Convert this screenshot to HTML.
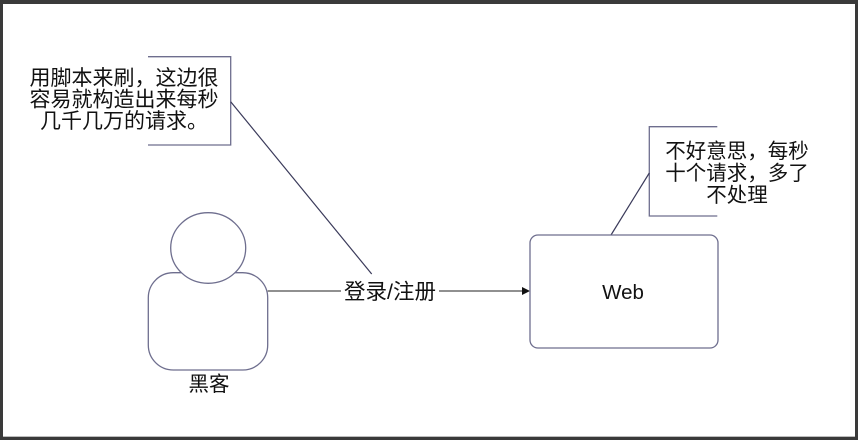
<!DOCTYPE html>
<html><head><meta charset="utf-8"><style>
html,body{margin:0;padding:0;background:#3a3a3a;}
svg{display:block;}
text{font-family:"Liberation Sans","Noto Sans CJK SC",sans-serif;fill:#111;}
</style></head><body>
<svg width="858" height="440" viewBox="0 0 858 440" xmlns="http://www.w3.org/2000/svg">
<rect x="0" y="0" width="858" height="440" fill="#3a3a3a"/>
<rect x="3" y="4" width="852" height="433" fill="#ffffff"/>
<line x1="3" y1="436.5" x2="855" y2="436.5" stroke="#bdbdbd" stroke-width="1"/>

<!-- left annotation -->
<path d="M148 56.7 H230.7 V145 H148" fill="none" stroke="#6e6e8e" stroke-width="1.3"/>
<line x1="230.7" y1="101.7" x2="371.7" y2="274" stroke="#3a3a5a" stroke-width="1.2"/>
<text x="124" y="85" font-size="21" text-anchor="middle">用脚本来刷，这边很</text>
<text x="124" y="106.5" font-size="21" text-anchor="middle">容易就构造出来每秒</text>
<text x="124" y="128" font-size="21" text-anchor="middle">几千几万的请求。</text>

<!-- right annotation -->
<path d="M717.3 126.7 H649.3 V216 H717.3" fill="none" stroke="#6e6e8e" stroke-width="1.3"/>
<line x1="649.3" y1="173" x2="611" y2="235" stroke="#3a3a5a" stroke-width="1.2"/>
<text x="737" y="158" font-size="20.5" text-anchor="middle">不好意思，每秒</text>
<text x="737" y="180" font-size="20.5" text-anchor="middle">十个请求，多了</text>
<text x="737" y="202" font-size="20.5" text-anchor="middle">不处理</text>

<!-- person -->
<rect x="148.3" y="272.7" width="119.4" height="97.3" rx="25" ry="25" fill="#fff" stroke="#6e6e8e" stroke-width="1.3"/>
<ellipse cx="208.2" cy="248" rx="37.5" ry="35.3" fill="#fff" stroke="#6e6e8e" stroke-width="1.3"/>
<text x="209" y="391" font-size="20.5" text-anchor="middle">黑客</text>

<!-- arrow -->
<line x1="267.7" y1="291" x2="524" y2="291" stroke="#222" stroke-width="1.1"/>
<polygon points="530,291 522,287 522,295" fill="#111"/>
<rect x="341" y="279" width="98" height="24" fill="#fff"/>
<text x="390" y="299" font-size="21.5" text-anchor="middle">登录/注册</text>

<!-- web box -->
<rect x="530" y="235" width="188" height="113" rx="8" ry="8" fill="#fff" stroke="#6e6e8e" stroke-width="1.3"/>
<text x="623" y="299" font-size="20.5" text-anchor="middle">Web</text>
</svg>
</body></html>
